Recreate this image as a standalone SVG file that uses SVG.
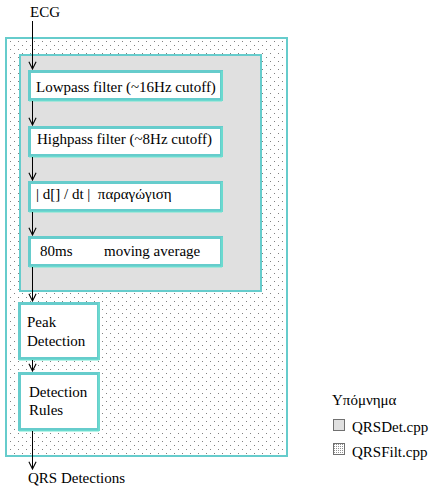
<svg xmlns="http://www.w3.org/2000/svg" width="435" height="489" viewBox="0 0 435 489">
<style>
text{font-family:'Liberation Serif','Times New Roman',Times,'DejaVu Serif',serif;font-size:15px;fill:#000}
.frame{stroke:#66CCCC;stroke-width:2}
.box{fill:#fff;stroke:#66CCCC;stroke-width:3}
.shade{fill:none;stroke:#70E8D2;stroke-width:1}
.conn{stroke:#000;stroke-width:1;fill:none;marker-end:url(#arr)}
</style>
<defs>
<pattern id="dots" x="0" y="0" width="8" height="8" patternUnits="userSpaceOnUse">
<rect width="8" height="8" fill="#fff"/>
<rect x="2" y="1" width="1" height="1" fill="#808080"/>
<rect x="6" y="5" width="1" height="1" fill="#808080"/>
</pattern>
<pattern id="fdots" x="0" y="0" width="2" height="2" patternUnits="userSpaceOnUse">
<rect width="2" height="2" fill="#fff"/>
<rect x="0" y="0" width="1" height="1" fill="#909090"/>
</pattern>
<marker id="arr" viewBox="0 0 10 10" refX="9" refY="5" markerWidth="9" markerHeight="9" markerUnits="userSpaceOnUse" orient="auto">
<path d="M1,1 L9,5 L1,9" fill="none" stroke="#000" stroke-width="1.2"/>
</marker>
</defs>

<g id="qrsfilt">
<rect class="frame" x="6" y="38" width="281" height="418" fill="url(#dots)"/>
</g>
<g id="qrsdet">
<rect class="frame" x="20" y="55" width="241" height="236" fill="#E0E0E0"/>
</g>

<g font-family="Liberation Serif, serif">
<g id="ecg"><text x="30" y="17">ECG</text></g>

<g id="lowpass">
<rect class="box" x="29.5" y="71.5" width="192" height="28"/>
<polyline class="shade" points="222,71 222,101 29,101"/>
<text x="36" y="92">Lowpass filter (~16Hz cutoff)</text>
</g>
<g id="highpass">
<rect class="box" x="29.5" y="127.5" width="192" height="28"/>
<polyline class="shade" points="222,127 222,157 29,157"/>
<text x="37" y="144">Highpass filter (~8Hz cutoff)</text>
</g>
<g id="derivative">
<rect class="box" x="29.5" y="182.5" width="192" height="28"/>
<polyline class="shade" points="222,182 222,212 29,212"/>
<text x="36" y="199" xml:space="preserve">| d[] / dt |  παραγώγιση</text>
</g>
<g id="movavg">
<rect class="box" x="29.5" y="237.5" width="192" height="28"/>
<polyline class="shade" points="222,237 222,267 29,267"/>
<text x="40" y="256">80ms</text>
<text x="104" y="256">moving average</text>
</g>
<g id="peak">
<rect class="box" x="19.5" y="303.5" width="79" height="55"/>
<polyline class="shade" points="99,303 99,360 19,360"/>
<text x="27" y="327">Peak</text>
<text x="27" y="346">Detection</text>
</g>
<g id="rules">
<rect class="box" x="19.5" y="373.5" width="79" height="56"/>
<polyline class="shade" points="99,373 99,431 19,431"/>
<text x="29" y="397">Detection</text>
<text x="29" y="415">Rules</text>
</g>
<g id="output"><text x="28" y="483">QRS Detections</text></g>

<g id="legend">
<text x="332" y="405">Υπόμνημα</text>
<rect x="333.5" y="419.5" width="11" height="11" fill="#E0E0E0" stroke="#707070"/>
<text x="352" y="432">QRSDet.cpp</text>
<rect x="333.5" y="443.5" width="11" height="11" fill="url(#fdots)" stroke="#707070"/>
<text x="352" y="457">QRSFilt.cpp</text>
</g>
</g>

<g id="connectors">
<line class="conn" x1="32.5" y1="21" x2="32.5" y2="69"/>
<line class="conn" x1="32.5" y1="101" x2="32.5" y2="125"/>
<line class="conn" x1="32.5" y1="157" x2="32.5" y2="180"/>
<line class="conn" x1="32.5" y1="212" x2="32.5" y2="235"/>
<line class="conn" x1="32.5" y1="267" x2="32.5" y2="301"/>
<line class="conn" x1="32.5" y1="360" x2="32.5" y2="371"/>
<line class="conn" x1="32.5" y1="431" x2="32.5" y2="469"/>
</g>
</svg>
